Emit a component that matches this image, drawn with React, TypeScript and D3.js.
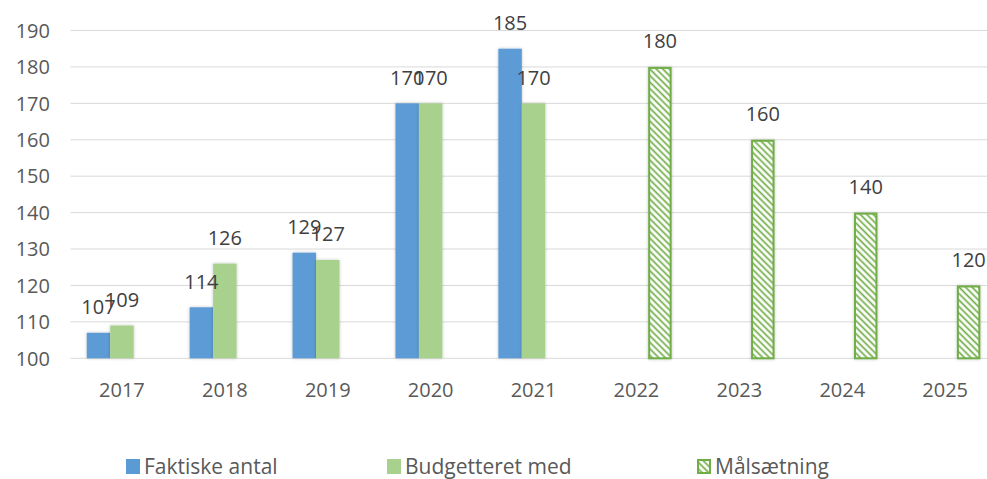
import React from "react";
import * as d3 from "d3";

const categories = ["2017", "2018", "2019", "2020", "2021", "2022", "2023", "2024", "2025"];
const faktiske: (number | null)[] = [107, 114, 129, 170, 185, null, null, null, null];
const budget: (number | null)[] = [109, 126, 127, 170, 170, null, null, null, null];
const maal: (number | null)[] = [null, null, null, null, null, 180, 160, 140, 120];
const yTicks = [100, 110, 120, 130, 140, 150, 160, 170, 180, 190];
const seriesNames = ["Faktiske antal", "Budgetteret med", "Målsætning"];

const W = 987;
const H = 479;
const FONT = "'Open Sans', 'Noto Sans', sans-serif";
const BLUE = "#5B9BD5";
const GREEN = "#A9D18E";
const DGREEN = "#70AD47";
const TEXT = "#595959";

export default function App() {
  const x = d3.scaleBand<string>().domain(categories).range([70.5, 996.6]).padding(0);
  const y = d3.scaleLinear().domain([100, 190]).range([358.3, 30.5]);
  const slot = x.bandwidth() * 0.228;
  const series = [faktiske, budget, maal];

  const barX = (cat: string, s: number) =>
    (x(cat) as number) + x.bandwidth() / 2 - 1.5 * slot + s * slot;

  return (
    <svg width={W} height={H} style={{ position: "absolute", left: 0, top: 0, background: "#fff" }}>
      <defs>
        <pattern id="hatch" width="4.6" height="4.6" patternUnits="userSpaceOnUse" patternTransform="rotate(-45)">
          <rect width="4.6" height="4.6" fill="#fff" />
          <line x1="1.3" y1="0" x2="1.3" y2="4.6" stroke={DGREEN} strokeWidth="1.7" />
        </pattern>
        <filter id="shadow" x="-30%" y="-10%" width="160%" height="120%">
          <feDropShadow dx="0" dy="0" stdDeviation="1.5" floodColor="#000" floodOpacity="0.25" />
        </filter>
      </defs>
      {yTicks.map((t) => (
        <line key={t} x1={70.5} x2={W} y1={y(t)} y2={y(t)} stroke="#D9D9D9" strokeWidth={1} />
      ))}
      {yTicks.map((t) => (
        <text key={t} x={50} y={y(t)} dy="0.36em" textAnchor="end" fontFamily={FONT} fontSize={20} fill={TEXT}>
          {t}
        </text>
      ))}
      {series.map((vals, s) =>
        categories.map((cat, i) => {
          const v = vals[i];
          if (v == null) return null;
          const bx = barX(cat, s);
          const top = y(v);
          const h = y(100) - top;
          if (s === 2) {
            return (
              <rect key={`${s}-${i}`} x={bx + 1} y={top + 1} width={slot - 2} height={h - 1}
                fill="url(#hatch)" stroke={DGREEN} strokeWidth={2} filter="url(#shadow)" />
            );
          }
          return (
            <rect key={`${s}-${i}`} x={bx} y={top} width={slot} height={h}
              fill={s === 0 ? BLUE : GREEN} filter="url(#shadow)" />
          );
        })
      )}
      {series.map((vals, s) =>
        categories.map((cat, i) => {
          const v = vals[i];
          if (v == null) return null;
          return (
            <text key={`l${s}-${i}`} x={barX(cat, s) + slot / 2} y={y(v) - 18.5} textAnchor="middle"
              fontFamily={FONT} fontSize={20} fill="#404040">
              {v}
            </text>
          );
        })
      )}
      {categories.map((cat) => (
        <text key={cat} x={(x(cat) as number) + x.bandwidth() / 2} y={396.5} textAnchor="middle"
          fontFamily={FONT} fontSize={20} fill={TEXT}>
          {cat}
        </text>
      ))}
      {[
        { name: seriesNames[0], x: 126, fill: BLUE },
        { name: seriesNames[1], x: 387, fill: GREEN },
        { name: seriesNames[2], x: 697, fill: "url(#hatch)" },
      ].map((l, i) => (
        <g key={l.name}>
          <rect x={l.x + (i === 2 ? 1 : 0)} y={459 + (i === 2 ? 1 : 0)} width={i === 2 ? 12 : 14} height={i === 2 ? 13 : 15}
            fill={l.fill} stroke={i === 2 ? DGREEN : "none"} strokeWidth={2} />
          <text x={l.x + 18} y={473.5} fontFamily={FONT} fontSize={21} fill={TEXT}>
            {l.name}
          </text>
        </g>
      ))}
    </svg>
  );
}
